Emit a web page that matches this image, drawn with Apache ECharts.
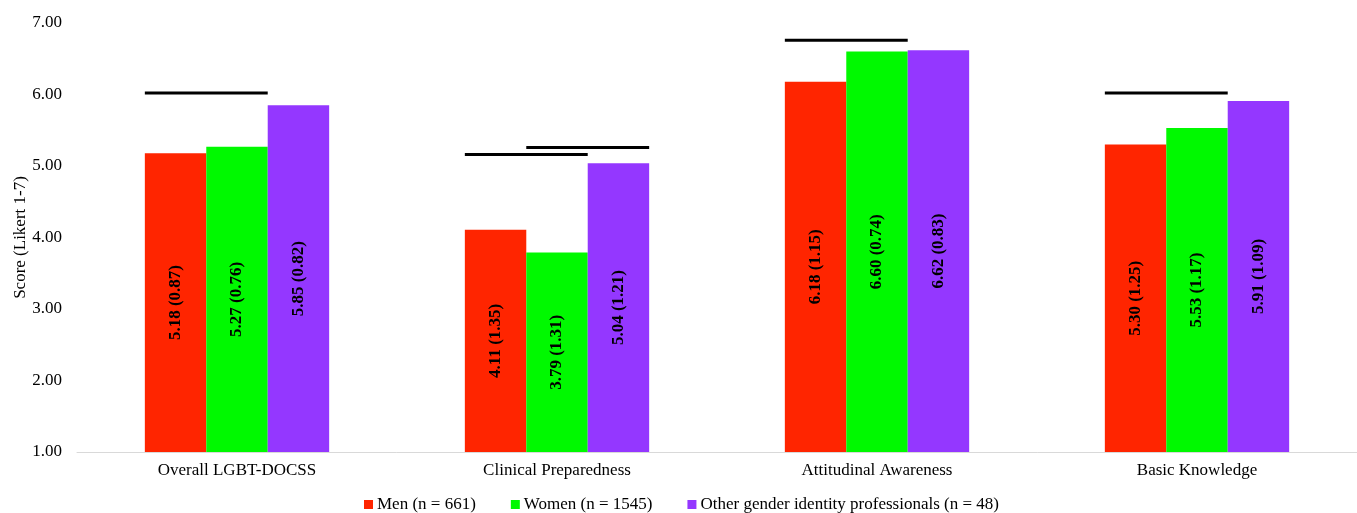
<!DOCTYPE html>
<html>
<head>
<meta charset="utf-8">
<script src="https://cdn.jsdelivr.net/npm/echarts@6/dist/echarts.min.js"></script>
<style>html,body{margin:0;padding:0;background:#fff;}#c{width:1357px;height:513px;}</style>
</head>
<body>
<div id="c"></div>
<script>
const categories = ['Overall LGBT-DOCSS', 'Clinical Preparedness', 'Attitudinal Awareness', 'Basic Knowledge'];
const seriesNames = ['Men (n = 661)', 'Women (n = 1545)', 'Other gender identity professionals (n = 48)'];
const menMeans = [5.18, 4.11, 6.18, 5.30];
const menSD = [0.87, 1.35, 1.15, 1.25];
const womenMeans = [5.27, 3.79, 6.60, 5.53];
const womenSD = [0.76, 1.31, 0.74, 1.17];
const otherMeans = [5.85, 5.04, 6.62, 5.91];
const otherSD = [0.82, 1.21, 0.83, 1.09];
// significance brackets: [category index, first bar, last bar, height]
const sigLines = [
  [0, 0, 1, 6.02],
  [1, 0, 1, 5.16],
  [1, 1, 2, 5.26],
  [2, 0, 1, 6.76],
  [3, 0, 1, 6.02]
];
const yTicks = [1, 2, 3, 4, 5, 6, 7];

const colors = ['#FF2500', '#00F900', '#9437FF'];
const GAP = 0.424;
const FONT = '"Liberation Serif", "Times New Roman", serif';

function barSeries(name, means, sds, color) {
  return {
    name: name, type: 'bar', barGap: 0, barCategoryGap: (GAP * 100) + '%',
    itemStyle: { color: color },
    data: means.map((m, i) => ({ value: m, sd: sds[i] })),
    label: {
      show: true, position: 'inside', rotate: 90,
      fontFamily: FONT, fontWeight: 'bold', fontSize: 17, color: '#000',
      formatter: p => p.value.toFixed(2) + ' (' + p.data.sd.toFixed(2) + ')'
    },
    emphasis: { disabled: true }
  };
}

const chart = echarts.init(document.getElementById('c'), null, { renderer: 'canvas' });
chart.setOption({
  animation: false,
  backgroundColor: '#fff',
  grid: { left: 77, right: 0, top: 23, bottom: 61, containLabel: false, outerBoundsMode: 'none' },
  legend: {
    data: seriesNames, bottom: -5, left: 359,
    icon: 'rect', itemWidth: 9, itemHeight: 9, itemGap: 35,
    textStyle: { fontFamily: FONT, fontSize: 17, color: '#000', padding: [0, 0, 0, -1] }
  },
  xAxis: {
    type: 'category', data: categories,
    axisLine: { lineStyle: { color: '#d9d9d9', width: 1 } },
    axisTick: { show: false },
    axisLabel: { fontFamily: FONT, fontSize: 17, color: '#000', margin: 10 }
  },
  yAxis: {
    type: 'value', min: yTicks[0], max: yTicks[yTicks.length - 1], interval: 1,
    name: 'Score (Likert 1-7)', nameLocation: 'middle', nameGap: 48, nameMoveOverlap: false,
    nameTextStyle: { fontFamily: FONT, fontSize: 17, color: '#000' },
    splitLine: { show: false },
    axisLine: { show: false }, axisTick: { show: false },
    axisLabel: { fontFamily: FONT, fontSize: 17, color: '#000', margin: 15, formatter: v => v.toFixed(2) }
  },
  series: [
    barSeries(seriesNames[0], menMeans, menSD, colors[0]),
    barSeries(seriesNames[1], womenMeans, womenSD, colors[1]),
    barSeries(seriesNames[2], otherMeans, otherSD, colors[2]),
    {
      type: 'custom', silent: true, z: 5,
      data: sigLines,
      renderItem: function (params, api) {
        const c = api.coord([api.value(0), api.value(3)]);
        const bandW = api.size([1, 0])[0];
        const barW = bandW * (1 - GAP) / 3;
        const left = c[0] - 1.5 * barW;
        const x1 = left + api.value(1) * barW;
        const x2 = left + (api.value(2) + 1) * barW;
        return { type: 'line', shape: { x1: x1, y1: c[1], x2: x2, y2: c[1] }, style: { stroke: '#000', lineWidth: 3 } };
      }
    }
  ]
});
</script>
</body>
</html>
